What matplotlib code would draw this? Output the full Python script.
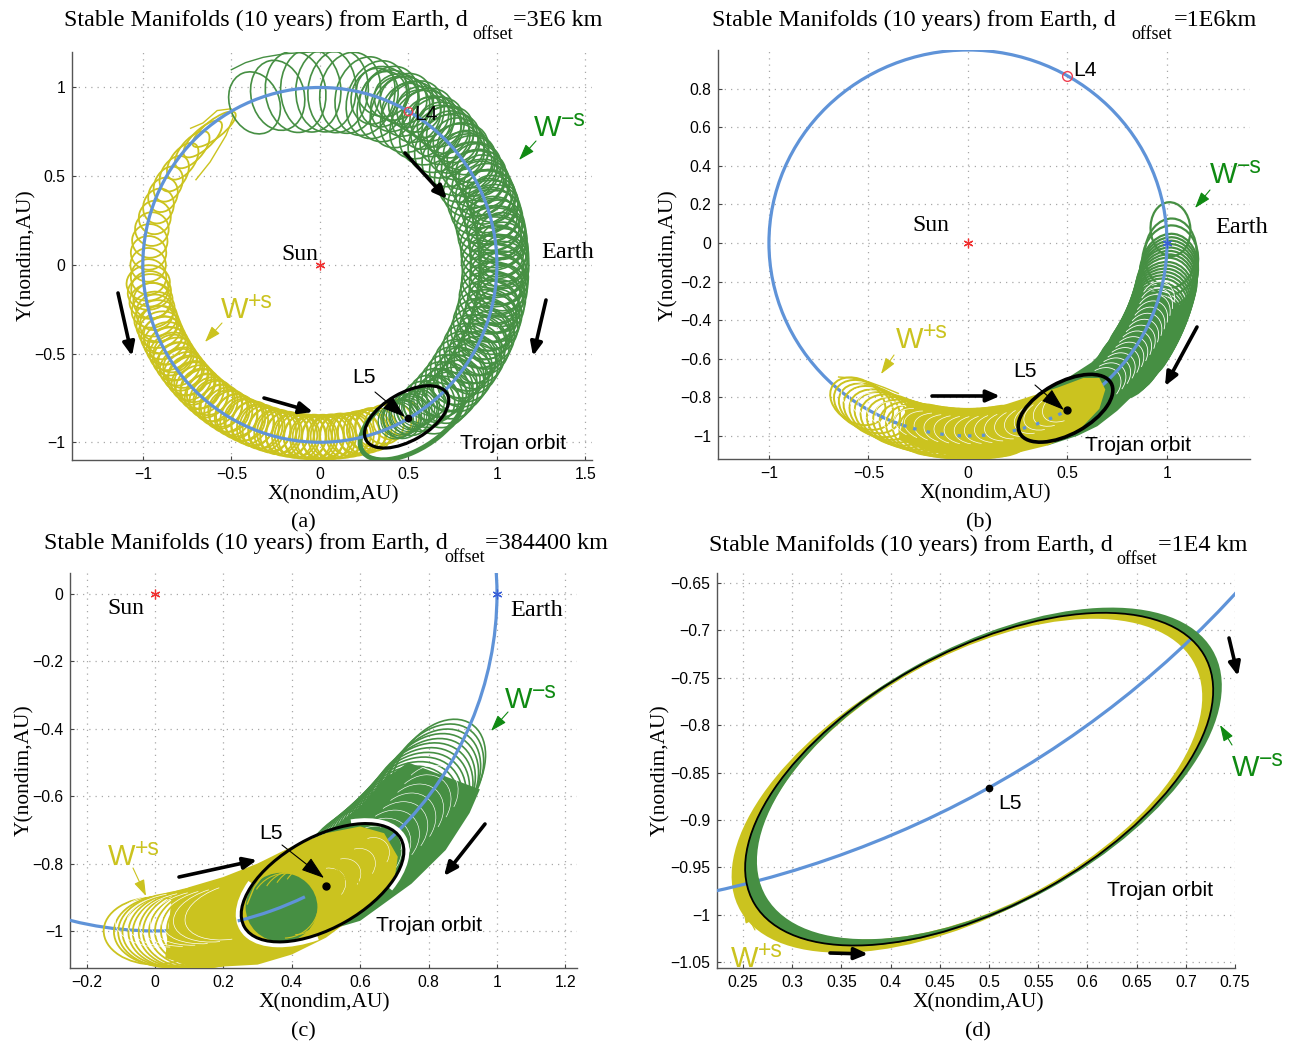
import numpy as np
import matplotlib
matplotlib.use("Agg")
import matplotlib.pyplot as plt
from matplotlib.patches import Circle, Ellipse, Arc, PathPatch
from matplotlib.path import Path
from matplotlib.transforms import Affine2D

W, H = 1291, 1042
GREEN = "#468f43"
YELLOW = "#cbc31f"
BLUE = "#5f93d8"
LBL_GREEN = "#0f8a12"
SERIF = "Liberation Serif"
SANS = "Liberation Sans"

# Trojan orbit
trojan_center = (0.49, -0.857)
trojan_w = 0.527
trojan_h = 0.268
trojan_angle = 30

# panel (a) loops: angle along the orbit (deg), size along orbit, size across orbit
a_green_theta = [112, 104, 98, 93, 88, 84, 80, 75, 71, 67, 62, 58, 54, 50, 46, 43, 39, 35, 32, 29, 26, 22, 19, 16, 13, 10, 7, 4, 1,
                 -2, -5, -8, -11, -14, -17, -20, -23, -26, -29, -32, -35, -38, -41, -44, -47, -50, -53, -56, -59, -62]
a_green_tang = [.28, .30, .34, .34, .34, .34, .34, .33, .33, .33, .33, .33, .33, .32, .32, .32, .32, .32, .31, .31, .31, .31, .30, .30, .30, .30, .30, .30, .30,
                .30, .30, .30, .30, .30, .29, .29, .29, .29, .28, .28, .27, .27, .26, .25, .25, .24, .24, .23, .22, .21]
a_green_rad = [.36, .40, .46, .47, .47, .47, .46, .45, .45, .44, .44, .43, .43, .42, .42, .41, .41, .40, .40, .40, .39, .39, .39, .38, .38, .38, .37, .37, .37,
               .36, .36, .36, .36, .35, .35, .35, .34, .34, .34, .33, .33, .32, .31, .30, .29, .28, .27, .25, .24, .22]
a_green2_theta = [72, 69, 65, 61, 57, 53, 49, 45, 41, 38, 34, 31, 27, 24, 21, 18, 15, 12, 9, 6, 3, 0, -3, -6, -9, -12, -15, -18, -21, -24, -27, -30, -33, -36, -39, -42, -45, -48]
a_green2_tang = [.26, .26, .26, .26, .26, .26, .26, .25, .25, .25, .25, .25, .25, .25, .25, .25, .25, .25, .25, .24, .24, .24, .24, .24, .24, .24, .24, .24, .24, .24, .24, .23, .23, .23, .23, .22, .22, .22]
a_green2_rad = [.32, .32, .32, .31, .31, .31, .31, .31, .31, .30, .30, .30, .30, .30, .30, .30, .30, .30, .30, .30, .30, .30, .30, .30, .29, .29, .29, .29, .29, .29, .28, .28, .28, .27, .27, .26, .26, .25]
a_green3_theta = [70, 67, 64, 62, 59, 56, 54, 51, 48, 46, 44, 41, 39, 36, 34, 31, 29, 27, 24, 22, 20, 17, 15, 12, 10, 8, 5, 3, 1, -1, -4, -6, -8, -11, -13, -16, -18, -20, -23, -25, -27, -30, -32, -34, -37, -39, -41, -44, -46, -48, -51]
a_green4_theta = [-50, -52, -54, -55, -56, -57, -58, -59, -60, -61, -62, -63, -64]
a_yellow_theta = [128, 133, 138, 143, 148, 152, 156, 160, 164, 168, 172, 176, 180, 184, 188, 192, 196, 200, 204, 208, 211, 214, 217, 220, 223, 226, 229, 232, 235, 238,
                  241, 244, 247, 250, 253, 256, 259, 262, 265, 268, 271, 274, 277, 280, 283, 286, 289, 292, 295, 298]
a_yellow_tang = [.30, .28, .26, .24, .22, .21, .20, .20, .19, .19, .19, .19, .19, .20, .20, .20, .20, .20, .21, .21, .21, .21, .22, .22, .22, .22, .23, .23, .23, .23,
                 .23, .23, .24, .24, .24, .24, .24, .24, .24, .24, .24, .24, .24, .24, .24, .23, .23, .22, .22, .21]
a_yellow_rad = [.10, .11, .12, .13, .14, .15, .16, .17, .18, .19, .20, .20, .20, .20, .21, .21, .21, .21, .22, .22, .22, .22, .22, .23, .23, .23, .23, .24, .24, .24,
                .24, .24, .25, .25, .25, .25, .25, .25, .25, .25, .25, .25, .25, .24, .24, .23, .22, .22, .21, .20]
a_yellow2_theta = [186, 189, 192, 195, 198, 200, 202, 204, 206, 208, 210, 212, 214, 216, 218, 220, 222, 224, 226, 228, 230, 232, 234, 236, 238, 240, 242, 244, 246, 248, 250, 252, 254, 256, 258, 260, 262, 264, 266, 268, 270, 272, 274, 276, 278, 280, 282, 284, 286, 288]
a_green_tail_x = [-0.5, -0.42, -0.32, -0.2, -0.05, 0.1]
a_green_tail_y = [1.10, 1.14, 1.17, 1.19, 1.20, 1.20]
a_yellow_tail_x = [-0.73, -0.66, -0.58, -0.5, -0.49, -0.53, -0.62, -0.7]
a_yellow_tail_y = [0.77, 0.80, 0.87, 0.88, 0.83, 0.73, 0.58, 0.48]

# panel (b) loops, body outlines, white gaps
b_green_theta = [4, -3, -5, -8, -9, -10, -11, -12, -13, -14, -15, -16, -17, -18, -19, -20, -21, -22, -23, -24, -25, -26, -27, -28, -29, -30, -31, -32, -33, -34, -35, -36, -37, -38, -39, -40]
b_green_tang = [.28, .36, .36, .38, .38, .38, .38, .38, .38, .38, .38, .37, .37, .37, .37, .37, .37, .36, .36, .36, .36, .36, .35, .35, .35, .35, .35, .34, .34, .34, .34, .34, .33, .33, .33, .33]
b_green_rad = [.20, .26, .28, .29, .29, .29, .29, .30, .30, .30, .30, .30, .30, .30, .30, .30, .30, .30, .30, .30, .30, .30, .30, .30, .30, .30, .30, .30, .30, .29, .29, .29, .29, .29, .28, .28]
b_green_body_x = [1.12, 1.05, 0.95, 0.85, 0.75, 0.65, 0.55, 0.40, 0.35, 0.50, 0.62, 0.72, 0.80, 0.87, 0.90]
b_green_body_y = [-0.35, -0.50, -0.65, -0.77, -0.87, -0.95, -1.00, -1.05, -0.78, -0.70, -0.62, -0.52, -0.42, -0.30, -0.24]
b_green_gap_theta = [-18, -20, -22, -24, -26, -28, -30, -32, -34, -36, -38, -40, -42, -44, -46, -48]
b_yellow_theta = [236, 238, 240, 242, 244, 246, 248, 250, 252, 254, 256, 258, 260, 262, 264, 266, 268, 270, 272, 274, 276, 278, 280]
b_yellow_tang = [.30, .32, .33, .34, .34, .35, .35, .35, .35, .35, .35, .35, .35, .35, .35, .35, .35, .35, .35, .35, .35, .35, .35]
b_yellow_rad = [.22, .23, .23, .24, .24, .24, .25, .25, .25, .25, .25, .26, .26, .26, .26, .26, .26, .26, .26, .26, .26, .26, .26]
b_yellow_body_x = [-0.30, -0.15, 0.0, 0.15, 0.30, 0.45, 0.58, 0.66, 0.69, 0.66, 0.55, 0.40, 0.20, 0.0, -0.2, -0.35]
b_yellow_body_y = [-0.81, -0.85, -0.87, -0.85, -0.80, -0.75, -0.70, -0.70, -0.76, -0.86, -0.98, -1.05, -1.10, -1.12, -1.08, -1.02]
b_yellow_gap_theta = [237, 240, 243, 246, 249, 252, 255, 258, 261, 264, 267, 270, 273, 276, 279, 282, 285, 288, 291, 294, 297, 300]
b_dash_theta = [244, 248, 251, 254, 258, 262, 267, 270, 274, 283, 286, 290, 294, 297]
b_hair_x = [-0.65, -0.58, -0.50, -0.42, -0.35]
b_hair_y = [-0.695, -0.70, -0.72, -0.75, -0.78]

# panel (c) loops, body outlines, white gaps
c_green_theta = [-33, -34, -35, -36, -37, -38, -39, -40, -41, -42, -43, -44, -45, -46, -47, -48, -49, -50, -51, -52, -53]
c_green_tang = [.36, .36, .36, .36, .36, .36, .36, .36, .36, .36, .36, .36, .36, .36, .36, .36, .36, .36, .36, .36, .36]
c_green_rad = [.24, .25, .25, .26, .26, .27, .27, .27, .27, .27, .27, .27, .27, .27, .27, .27, .27, .27, .27, .27, .27]
c_green_body_x = [0.40, 0.60, 0.75, 0.85, 0.92, 0.95, 0.74, 0.67, 0.60, 0.50, 0.41, 0.35]
c_green_body_y = [-1.03, -0.97, -0.86, -0.76, -0.65, -0.58, -0.50, -0.55, -0.63, -0.71, -0.78, -0.82]
c_green_gap_theta = [-37, -39, -41, -43, -45, -47, -49, -51]
c_inner_x = [0.38, 0.41, 0.44, 0.47, 0.50]
c_inner_y = [-0.925, -0.915, -0.905, -0.895, -0.885]
c_yellow_theta = [270, 272, 273, 274, 275, 276, 277, 278, 279, 280, 281, 282, 283, 284, 285, 286, 287, 288, 289, 290]
c_yellow_tang = [.30, .31, .32, .33, .33, .34, .34, .35, .35, .35, .35, .35, .35, .35, .35, .35, .35, .35, .35, .35]
c_yellow_rad = [.20, .21, .22, .22, .23, .23, .24, .24, .24, .24, .24, .24, .24, .24, .24, .24, .24, .24, .24, .24]
c_yellow_body_x = [0.05, 0.1, 0.2, 0.3, 0.4, 0.5, 0.6, 0.67, 0.71, 0.70, 0.62, 0.5, 0.4, 0.3, 0.12, 0.03]
c_yellow_body_y = [-0.89, -0.87, -0.84, -0.80, -0.75, -0.71, -0.69, -0.71, -0.78, -0.85, -0.93, -1.02, -1.07, -1.10, -1.11, -1.08]
c_yellow_gap_theta = [272, 274, 276, 278, 280, 282, 284]
c_mid_gap_theta = [300, 303, 306, 309, 312]
c_arc_x = [0.27, 0.29, 0.32, 0.36]
c_arc_y = [-0.92, -0.87, -0.83, -0.80]

# tick values and labels
a_xticks = [-1, -0.5, 0, 0.5, 1, 1.5]
a_xlabels = ["\u22121", "\u22120.5", "0", "0.5", "1", "1.5"]
a_yticks = [-1, -0.5, 0, 0.5, 1]
a_ylabels = ["\u22121", "\u22120.5", "0", "0.5", "1"]
b_xticks = [-1, -0.5, 0, 0.5, 1]
b_xlabels = ["\u22121", "\u22120.5", "0", "0.5", "1"]
b_yticks = [-1, -0.8, -0.6, -0.4, -0.2, 0, 0.2, 0.4, 0.6, 0.8]
b_ylabels = ["\u22121", "\u22120.8", "\u22120.6", "\u22120.4", "\u22120.2", "0", "0.2", "0.4", "0.6", "0.8"]
c_xticks = [-0.2, 0, 0.2, 0.4, 0.6, 0.8, 1, 1.2]
c_xlabels = ["\u22120.2", "0", "0.2", "0.4", "0.6", "0.8", "1", "1.2"]
c_yticks = [-1, -0.8, -0.6, -0.4, -0.2, 0]
c_ylabels = ["\u22121", "\u22120.8", "\u22120.6", "\u22120.4", "\u22120.2", "0"]
d_xticks = [0.25, 0.3, 0.35, 0.4, 0.45, 0.5, 0.55, 0.6, 0.65, 0.7, 0.75]
d_xlabels = ["0.25", "0.3", "0.35", "0.4", "0.45", "0.5", "0.55", "0.6", "0.65", "0.7", "0.75"]
d_yticks = [-1.05, -1, -0.95, -0.9, -0.85, -0.8, -0.75, -0.7, -0.65]
d_ylabels = ["\u22121.05", "\u22121", "\u22120.95", "\u22120.9", "\u22120.85", "\u22120.8", "\u22120.75", "\u22120.7", "\u22120.65"]

fig = plt.figure(figsize=(W / 100, H / 100), dpi=100)


def fx(x):
    return x / W


def fy(y):
    return 1 - y / H


def make_axes(box, xlim, ylim, xt, xl, yt, yl, xlab_pos, ylab_pos):
    left, top, right, bottom = box
    ax = fig.add_axes([fx(left), fy(bottom), (right - left) / W, (bottom - top) / H])
    ax.set_xlim(xlim)
    ax.set_ylim(ylim)
    ax.set_xticks(xt)
    ax.set_xticklabels(xl, fontfamily=SANS, fontsize=11.3)
    ax.set_yticks(yt)
    ax.set_yticklabels(yl, fontfamily=SANS, fontsize=11.3)
    ax.tick_params(direction="in", length=3, width=0.8, color="#444444", pad=5)
    ax.grid(True, linestyle=(0, (1, 4)), color="#a8a8a8", linewidth=0.9)
    ax.set_axisbelow(True)
    for s in ["top", "right"]:
        ax.spines[s].set_visible(False)
    for s in ["left", "bottom"]:
        ax.spines[s].set_color("#555555")
        ax.spines[s].set_linewidth(1.0)
    ax.set_xlabel("X(nondim,AU)", fontfamily=SERIF, fontsize=15.4)
    ax.set_ylabel("Y(nondim,AU)", fontfamily=SERIF, fontsize=15.4)
    ax.xaxis.set_label_coords(fx(xlab_pos[0]), fy(xlab_pos[1]), transform=fig.transFigure)
    ax.yaxis.set_label_coords(fx(ylab_pos[0]), fy(ylab_pos[1]), transform=fig.transFigure)
    return ax


def title(x1, x2, x3, y, rest):
    fig.text(fx(x1), fy(y), "Stable Manifolds (10 years) from Earth, d", fontfamily=SERIF, fontsize=17.4, va="baseline")
    fig.text(fx(x2), fy(y + 13), "offset", fontfamily=SERIF, fontsize=13, va="baseline")
    fig.text(fx(x3), fy(y), rest, fontfamily=SERIF, fontsize=17.4, va="baseline")


def loops(ax, theta, tang, rad, rc, color, lw, z):
    theta, tang, rad = np.broadcast_arrays(theta, tang, rad)
    for t, w, h in zip(theta, tang, rad):
        a = np.radians(t)
        ax.add_patch(Ellipse((rc * np.cos(a), rc * np.sin(a)), w, h, angle=t + 90, fill=False,
                             edgecolor=color, linewidth=lw, zorder=z))


def gaps(ax, theta, tang, rad, rc, t1, t2, color, lw, z):
    for t in theta:
        a = np.radians(t)
        ax.add_patch(Arc((rc * np.cos(a), rc * np.sin(a)), tang, rad, angle=t + 90, theta1=t1, theta2=t2,
                         edgecolor=color, linewidth=lw, zorder=z))


def orbit(ax, z):
    ax.add_patch(Circle((0, 0), 1.0, fill=False, edgecolor=BLUE, linewidth=2.3, zorder=z))


def orbit_piece(ax, t1, t2, z):
    ax.add_patch(Arc((0, 0), 2, 2, theta1=t1, theta2=t2, edgecolor=BLUE, linewidth=2.3, zorder=z))


def trojan(ax, lw, z):
    ax.add_patch(Ellipse(trojan_center, trojan_w, trojan_h, angle=trojan_angle, fill=False,
                         edgecolor="black", linewidth=lw, zorder=z))


def big_arrow(ax, p0, p1):
    ax.annotate("", xy=(fx(p1[0]), fy(p1[1])), xytext=(fx(p0[0]), fy(p0[1])), xycoords="figure fraction",
                textcoords="figure fraction", zorder=30,
                arrowprops=dict(arrowstyle="-|>,head_length=0.8,head_width=0.35", lw=2.6, color="black",
                                shrinkA=0, shrinkB=0))


def thin_arrow(ax, p0, p1, color, scale=11):
    ax.annotate("", xy=(fx(p1[0]), fy(p1[1])), xytext=(fx(p0[0]), fy(p0[1])), xycoords="figure fraction",
                textcoords="figure fraction", zorder=30,
                arrowprops=dict(arrowstyle="-|>,head_length=0.9,head_width=0.3", lw=0.8, color=color,
                                shrinkA=0, shrinkB=0, mutation_scale=scale))


def label(x, y, s, fam=SANS, size=15.2, color="black"):
    fig.text(fx(x), fy(y), s, fontfamily=fam, fontsize=size, color=color, va="baseline", zorder=40)


def w_label(x, y, sup, color):
    label(x, y, "W", size=21, color=color)
    label(x + 27, y - 10, sup, size=16.5, color=color)


def star(ax, x, y, color):
    ax.plot([x], [y], marker=(6, 2, 0), linestyle="none", color=color, markersize=7, markeredgewidth=0.9, zorder=20)


def dot(ax, x, y, size):
    ax.plot([x], [y], "o", color="black", markersize=size, zorder=20)


def ring(ax, w_out, h_out, s_out, w_in, h_in, s_in, color, z):
    # two nested ellipses shifted along the long axis, filled between them
    parts = []
    for w, h, s, sgn in ((w_out, h_out, s_out, 1), (w_in, h_in, s_in, -1)):
        tr = Affine2D().scale(w / 2, sgn * h / 2).translate(s, 0).rotate_deg(trojan_angle).translate(*trojan_center)
        parts.append(Path.unit_circle().transformed(tr))
    ax.add_patch(PathPatch(Path.make_compound_path(*parts), facecolor=color, edgecolor="none", zorder=z))


# ------ panel (a)
ax = make_axes((72, 52, 592, 460), (-1.40, 1.537), (-1.10, 1.20), a_xticks, a_xlabels, a_yticks, a_ylabels, (333, 485), (36, 255))
loops(ax, a_yellow_theta, a_yellow_tang, a_yellow_rad, 0.97, YELLOW, 1.3, 3)
loops(ax, a_yellow2_theta, 0.2, 0.245, 0.975, YELLOW, 1.3, 3)
ax.plot(a_yellow_tail_x, a_yellow_tail_y, color=YELLOW, lw=1.0, zorder=3)
loops(ax, a_green_theta, a_green_tang, a_green_rad, 0.985, GREEN, 1.2, 4)
loops(ax, a_green2_theta, a_green2_tang, a_green2_rad, 1.0, GREEN, 1.2, 4)
loops(ax, a_green3_theta, 0.3, 0.28, 1.04, GREEN, 1.2, 4)
loops(ax, a_green4_theta, 0.2, 0.2, 0.98, GREEN, 0.9, 4)
ax.plot(a_green_tail_x, a_green_tail_y, color=GREEN, lw=1.0, zorder=4)
ax.add_patch(Arc((0.52, -0.875), 0.66, 0.33, angle=32, theta1=130, theta2=350, edgecolor=GREEN, linewidth=3.5, zorder=4))
orbit(ax, 6)
trojan(ax, 2.3, 8)
star(ax, 0, 0, "#f03030")
ax.plot([0.5], [0.866], "o", mfc="none", mec="#f04050", ms=6, zorder=20)
dot(ax, 0.5, -0.866, 4.5)
title(64, 472, 513, 26, "=3E6 km")
label(281, 260, "Sun", SERIF, 17)
label(541, 258, "Earth", SERIF, 17.5)
label(352, 383, "L5")
label(414, 120, "L4")
label(460, 449, "Trojan orbit")
w_label(534, 136, "\u2212s", LBL_GREEN)
w_label(221, 318, "+s", YELLOW)
label(291, 527, "(a)", SERIF, 16)
big_arrow(ax, (405, 153), (447, 199))
big_arrow(ax, (118, 293), (132, 356))
big_arrow(ax, (546, 300), (533, 356))
big_arrow(ax, (264, 398), (313, 412))
thin_arrow(ax, (375, 392), (405, 417), "black", 16)
thin_arrow(ax, (536, 141), (519, 160), LBL_GREEN)
thin_arrow(ax, (222, 323), (205, 342), YELLOW)

# ------ panel (b)
ax = make_axes((718, 50, 1250, 459), (-1.256, 1.417), (-1.12, 1.0), b_xticks, b_xlabels, b_yticks, b_ylabels, (985, 484), (678, 255))
ax.fill(b_green_body_x, b_green_body_y, color=GREEN, lw=0, zorder=3)
loops(ax, b_green_theta, b_green_tang, b_green_rad, 1.02, GREEN, 1.6, 3)
gaps(ax, b_green_gap_theta, 0.22, 0.17, 1.0, -70, 70, "white", 0.6, 3)
orbit(ax, 4)
ax.fill(b_yellow_body_x, b_yellow_body_y, color=YELLOW, lw=0, zorder=5)
loops(ax, b_yellow_theta, b_yellow_tang, b_yellow_rad, 0.99, YELLOW, 1.4, 5)
gaps(ax, b_yellow_gap_theta, 0.24, 0.15, 0.97, 120, 240, "white", 0.5, 5)
for t in b_dash_theta:
    orbit_piece(ax, t, t + 1, 6)
ax.plot(b_hair_x, b_hair_y, color=YELLOW, lw=1.0, zorder=5)
trojan(ax, 2.6, 8)
star(ax, 0, 0, "#f03030")
star(ax, 1, 0, "#3a60d8")
ax.plot([0.5], [0.866], "o", mfc="none", mec="#f04050", ms=7, zorder=20)
dot(ax, 0.5, -0.866, 5)
title(712, 1131, 1174, 26, "=1E6km")
label(912, 231, "Sun", SERIF, 17)
label(1215, 233, "Earth", SERIF, 17.5)
label(1073, 76, "L4")
label(1013, 377, "L5")
label(1085, 451, "Trojan orbit")
w_label(1210, 183, "\u2212s", LBL_GREEN)
w_label(896, 348, "+s", YELLOW)
label(966, 527, "(b)", SERIF, 16)
big_arrow(ax, (932, 396), (1000, 396))
big_arrow(ax, (1197, 327), (1165, 386))
thin_arrow(ax, (1035, 385), (1064, 410), "black", 16)
thin_arrow(ax, (1210, 190), (1195, 208), LBL_GREEN)
thin_arrow(ax, (894, 355), (881, 374), YELLOW)

# ------ panel (c)
ax = make_axes((70, 573, 577, 968), (-0.2485, 1.234), (-1.11, 0.062), c_xticks, c_xlabels, c_yticks, c_ylabels, (324, 993), (34, 770))
ax.fill(c_green_body_x, c_green_body_y, color=GREEN, lw=0, zorder=3)
loops(ax, c_green_theta, c_green_tang, c_green_rad, 0.985, GREEN, 1.2, 3)
gaps(ax, c_green_gap_theta, 0.2, 0.16, 1.0, -75, 75, "white", 0.45, 3)
orbit(ax, 4)
ax.fill(c_yellow_body_x, c_yellow_body_y, color=YELLOW, lw=0, zorder=5)
loops(ax, c_yellow_theta, c_yellow_tang, c_yellow_rad, 1.0, YELLOW, 1.3, 5)
gaps(ax, c_yellow_gap_theta, 0.3, 0.16, 0.97, 110, 250, "white", 0.5, 5)
gaps(ax, c_mid_gap_theta, 0.12, 0.10, 1.0, -60, 60, "white", 0.4, 5)
for s1, s2 in ((-35, 35), (150, 235)):
    ax.add_patch(Arc(trojan_center, trojan_w + 0.014, trojan_h + 0.014, angle=trojan_angle, theta1=s1, theta2=s2,
                     edgecolor="white", linewidth=4.5, zorder=6))
ax.add_patch(Ellipse((0.37, -0.93), 0.21, 0.205, facecolor=GREEN, edgecolor="none", zorder=6))
for cx, cy in zip(c_inner_x, c_inner_y):
    ax.add_patch(Arc((cx, cy), 0.2, 0.19, angle=30, theta1=-120, theta2=120, edgecolor=YELLOW, linewidth=0.8, zorder=7))
ax.plot(c_arc_x, c_arc_y, color=YELLOW, lw=1, zorder=7)
orbit_piece(ax, 284, 296, 7)
trojan(ax, 2.2, 8)
star(ax, 0, 0, "#f03030")
star(ax, 1, 0, "#3a60d8")
dot(ax, 0.5, -0.866, 5)
title(44, 444, 485, 549, "=384400 km")
label(107, 614, "Sun", SERIF, 17)
label(510, 616, "Earth", SERIF, 17.5)
label(259, 839, "L5")
label(376, 931, "Trojan orbit")
w_label(505, 708, "\u2212s", LBL_GREEN)
w_label(108, 865, "+s", YELLOW)
label(291, 1036, "(c)", SERIF, 16)
big_arrow(ax, (179, 877), (257, 860))
big_arrow(ax, (485, 824), (444, 876))
thin_arrow(ax, (282, 845), (324, 878), "black", 16)
thin_arrow(ax, (508, 712), (491, 731), LBL_GREEN)
thin_arrow(ax, (133, 868), (146, 896), YELLOW)

# ------ panel (d)
ax = make_axes((717, 573, 1235, 968), (0.2236, 0.75), (-1.0563, -0.6394), d_xticks, d_xlabels, d_yticks, d_ylabels, (978, 993), (670, 770))
ring(ax, trojan_w + 0.016, trojan_h + 0.002, -0.008, trojan_w - 0.026, trojan_h - 0.005, 0.0, YELLOW, 3)
orbit(ax, 4)
ring(ax, trojan_w + 0.010, trojan_h + 0.004, 0.005, trojan_w - 0.014, trojan_h - 0.002, 0.007, GREEN, 5)
trojan(ax, 1.3, 8)
dot(ax, 0.5, -0.866, 4.5)
title(709, 1116, 1158, 551, "=1E4 km")
label(998, 809, "L5")
label(1107, 896, "Trojan orbit")
w_label(1232, 776, "\u2212s", LBL_GREEN)
w_label(731, 967, "+s", YELLOW)
label(965, 1036, "(d)", SERIF, 16)
big_arrow(ax, (1229, 638), (1238, 676))
big_arrow(ax, (830, 953), (868, 954))
thin_arrow(ax, (1232, 745), (1220, 725), LBL_GREEN)
thin_arrow(ax, (755, 930), (743, 907), YELLOW)

fig.savefig("out.png", dpi=100)
